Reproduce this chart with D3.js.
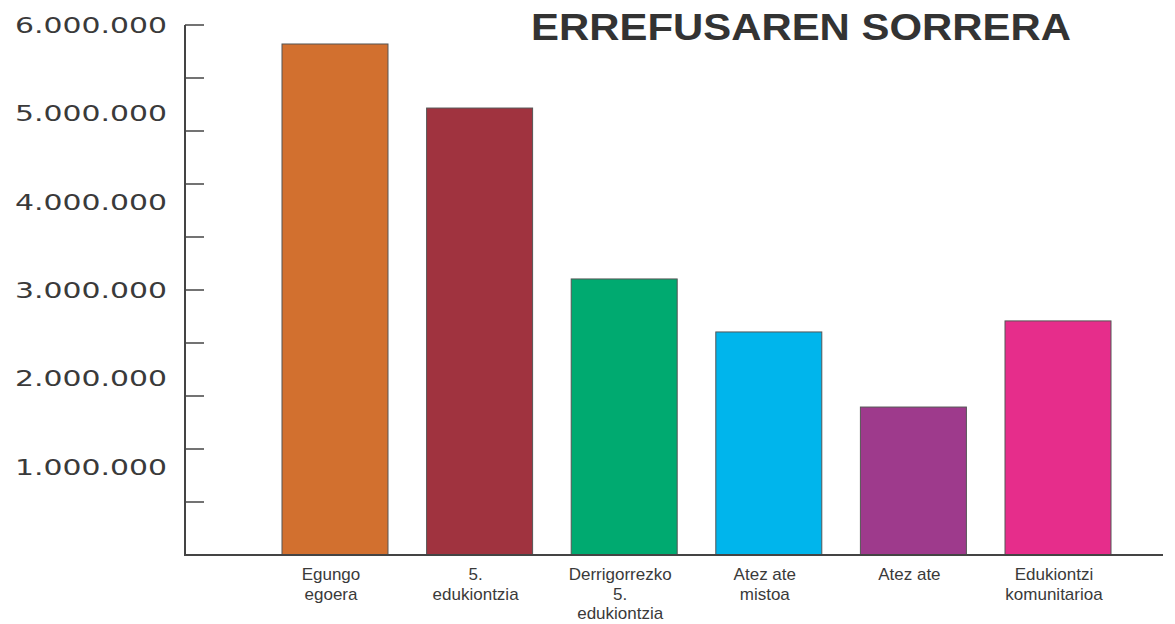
<!DOCTYPE html>
<html>
<head>
<meta charset="utf-8">
<script src="https://cdn.jsdelivr.net/npm/d3@7"></script>
<style>
  body { margin: 0; background: #fff; }
  svg { display: block; }
</style>
</head>
<body>
<svg width="1175" height="624"></svg>
<script>
// Data
var categories = [
	["Egungo", "egoera"],
	["5.", "edukiontzia"],
	["Derrigorrezko", "5.", "edukiontzia"],
	["Atez ate", "mistoa"],
	["Atez ate"],
	["Edukiontzi", "komunitarioa"],
];
var values = [5785000, 5060000, 3125000, 2525000, 1675000, 2650000];
var colors = ["#d2702f", "#a0333f", "#00aa70", "#00b5ec", "#9e3a8c", "#e62d8b"];
var labelTicks = [1000000, 2000000, 3000000, 4000000, 5000000, 6000000];
var minorTicks = d3.range(0, 6000001, 600000);
var title = "ERREFUSAREN SORRERA";

var svg = d3.select("svg");
var ink = "#3a3a3a";

// Scales
var yscale = d3.scaleLinear().domain([0, 6000000]).range([555, 25]);
var xscale = d3
	.scaleBand()
	.domain(d3.range(values.length))
	.range([282, 1111])
	.paddingInner(0.267)
	.paddingOuter(0);

// Bars
svg
	.append("g")
	.selectAll("rect")
	.data(values)
	.enter()
	.append("rect")
	.attr("x", (d, i) => xscale(i))
	.attr("y", (d) => yscale(d))
	.attr("width", xscale.bandwidth())
	.attr("height", (d) => yscale(0) - yscale(d))
	.attr("fill", (d, i) => colors[i])
	.attr("stroke", "#555")
	.attr("stroke-width", 1);

// Axis lines
var axis = svg.append("g").attr("stroke", "#444");
axis
	.append("line")
	.attr("x1", 185)
	.attr("x2", 185)
	.attr("y1", yscale(6000000))
	.attr("y2", yscale(0) + 1)
	.attr("stroke-width", 2);
axis
	.append("line")
	.attr("x1", 184)
	.attr("x2", 1163)
	.attr("y1", yscale(0))
	.attr("y2", yscale(0))
	.attr("stroke-width", 2);
axis
	.selectAll("line.tick")
	.data(minorTicks)
	.enter()
	.append("line")
	.attr("class", "tick")
	.attr("x1", 185)
	.attr("x2", 204)
	.attr("y1", (d) => yscale(d))
	.attr("y2", (d) => yscale(d))
	.attr("stroke-width", 1.5);

// Y labels
svg
	.append("g")
	.selectAll("text")
	.data(labelTicks)
	.enter()
	.append("text")
	.attr("x", 15)
	.attr("y", (d) => yscale(d) + 8)
	.attr("textLength", 152)
	.attr("lengthAdjust", "spacingAndGlyphs")
	.attr("font-family", "DejaVu Sans")
	.attr("font-size", 22)
	.attr("fill", ink)
	.text((d) => d3.format(",")(d).replace(/,/g, "."));

// Category labels
svg
	.append("g")
	.selectAll("text")
	.data(categories)
	.enter()
	.append("text")
	.attr("font-family", "Liberation Sans")
	.attr("font-size", 17)
	.attr("fill", ink)
	.attr("text-anchor", "middle")
	.each(function (lines, i) {
		var cx = xscale(i) + xscale.bandwidth() / 2 - 4;
		d3.select(this)
			.selectAll("tspan")
			.data(lines)
			.enter()
			.append("tspan")
			.attr("x", cx)
			.attr("y", (d, j) => 580 + j * 19.5)
			.text((d) => d);
	});

// Title
svg
	.append("text")
	.attr("x", 531)
	.attr("y", 40)
	.attr("textLength", 540)
	.attr("lengthAdjust", "spacingAndGlyphs")
	.attr("font-family", "Liberation Sans")
	.attr("font-weight", "bold")
	.attr("font-size", 37)
	.attr("fill", "#333")
	.text(title);
</script>
</body>
</html>
